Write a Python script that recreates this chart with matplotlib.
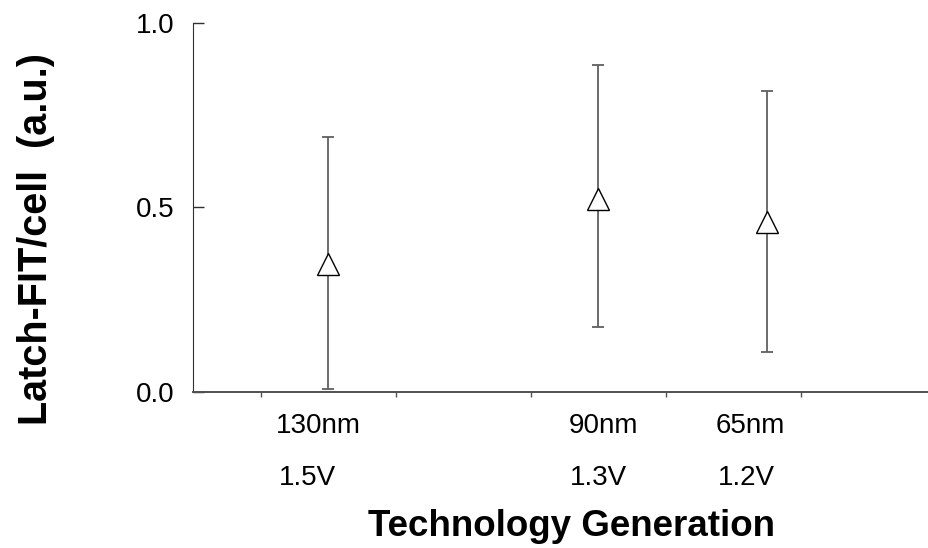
import numpy as np
import matplotlib
matplotlib.use('Agg')
import matplotlib.pyplot as plt

plt.rcParams['font.family'] = ['Liberation Sans', 'DejaVu Sans']

# data
nodes = ['130nm', '90nm', '65nm']
volts = ['1.5V', '1.3V', '1.2V']
node_x = [1.0, 3.0, 4.25]
fit_mean = [0.346, 0.522, 0.461]
fit_low = [0.008, 0.177, 0.108]
fit_high = [0.69, 0.885, 0.816]
yticks = [0.0, 0.5, 1.0]
yticklabels = ['0.0', '0.5', '1.0']

# label positions (text, not marks)
node_label_x = [0.93, 3.04, 4.13]
volt_label_x = [0.85, 3.00, 4.10]

fig = plt.figure(figsize=(9.29, 5.48), dpi=100)
ax = fig.add_axes([0.2078, 0.2847, 0.7922, 0.674])

mean = np.array(fit_mean)
err = [mean - np.array(fit_low), np.array(fit_high) - mean]
ax.errorbar(node_x, fit_mean, yerr=err, fmt='none', ecolor='#606060',
            elinewidth=1.3, capsize=4.5, capthick=1.3, zorder=2)
ax.plot(node_x, fit_mean, linestyle='none', marker='^', markersize=16.5,
        markerfacecolor='white', markeredgecolor='black', markeredgewidth=1.0, zorder=3)

ax.set_xlim(0, 5.45)
ax.set_ylim(0, 1.0)
ax.set_xticks([0.5, 1.5, 2.5, 3.5, 4.5])
ax.set_xticklabels([])
ax.set_yticks(yticks)
ax.set_yticklabels(yticklabels, fontsize=20)

ax.spines['top'].set_visible(False)
ax.spines['right'].set_visible(False)
ax.spines['left'].set_color('#303030')
ax.spines['bottom'].set_color('#505050')
ax.spines['bottom'].set_linewidth(1.4)
ax.tick_params(axis='y', direction='in', length=8, width=1, pad=13, colors='#303030', labelcolor='black')
ax.tick_params(axis='x', direction='out', length=3.5, width=1, colors='#505050')

for x, t in zip(node_label_x, nodes):
    ax.text(x, -0.092, t, transform=ax.get_xaxis_transform(), ha='center', va='center', fontsize=20)
for x, t in zip(volt_label_x, volts):
    ax.text(x, -0.233, t, transform=ax.get_xaxis_transform(), ha='center', va='center', fontsize=20)

fig.text(572 / 929, 1 - 527 / 548, 'Technology Generation', ha='center', va='center',
         fontsize=26.5, fontweight='bold')
fig.text(36 / 929, 1 - 239 / 548, 'Latch-FIT/cell  (a.u.)', ha='center', va='center',
         rotation=90, fontsize=28.5, fontweight='bold')

fig.savefig('out.png', dpi=100)
